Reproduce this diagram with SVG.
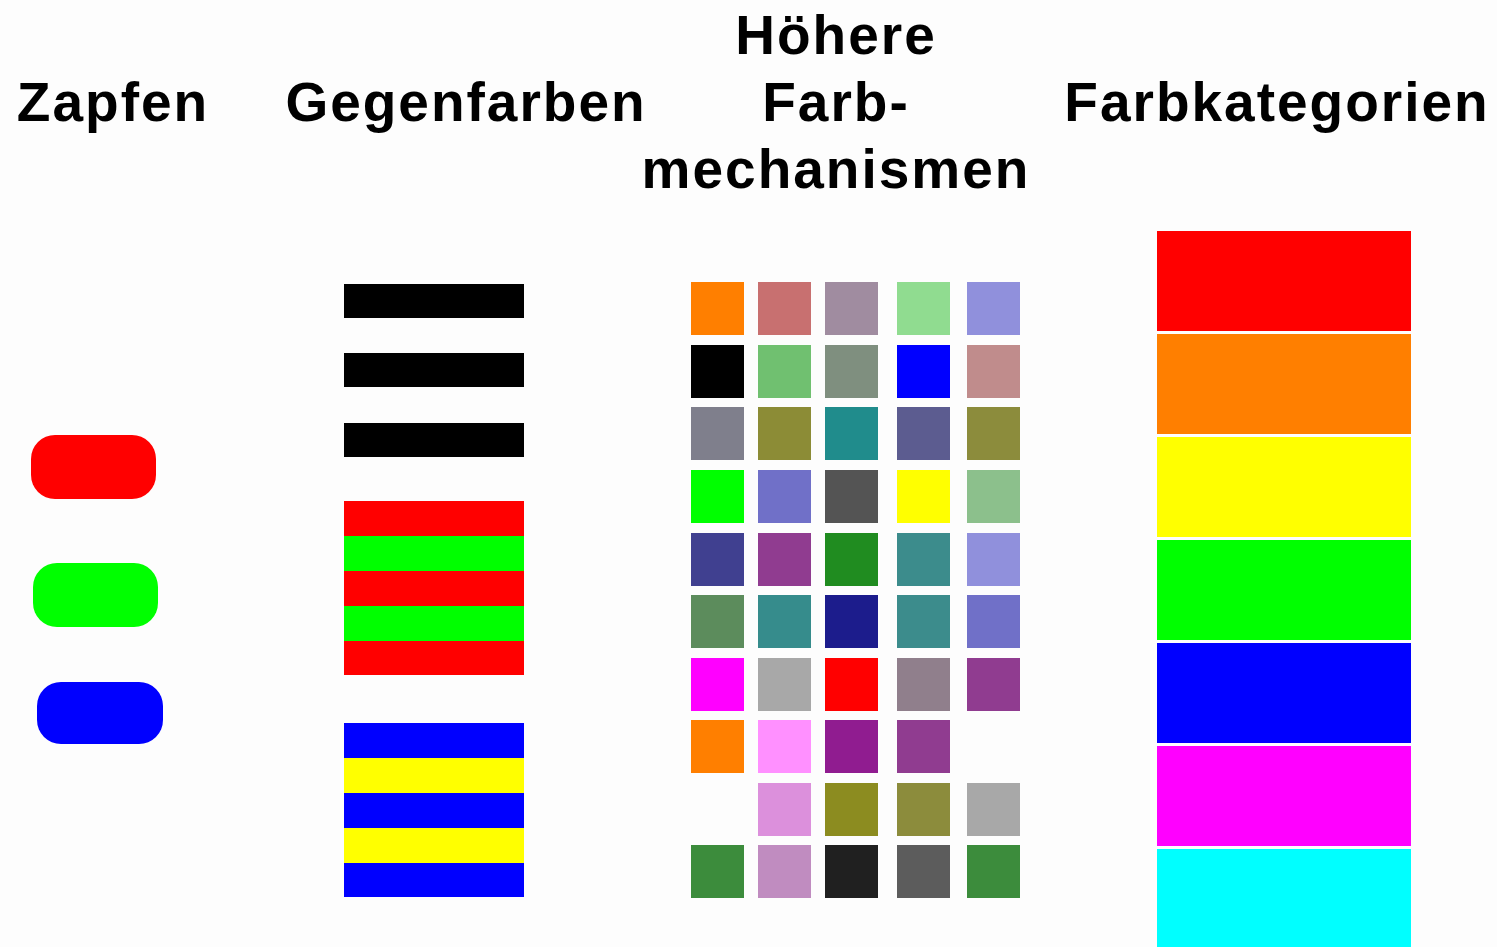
<svg xmlns="http://www.w3.org/2000/svg" width="1497" height="947" viewBox="0 0 1497 947">
<style>
.h{font-family:"Liberation Sans",Arial,sans-serif;font-weight:bold;font-size:55px;letter-spacing:2px;fill:#000;text-anchor:middle}
.c{width:53px;height:53px}
</style>
<rect width="1497" height="947" fill="#fdfdfd"/>
<g id="headers">
<text class="h" x="113" y="121">Zapfen</text>
<text class="h" x="466" y="121">Gegenfarben</text>
<text class="h" x="836" y="54">Höhere</text>
<text class="h" x="836" y="121">Farb-</text>
<text class="h" x="836" y="188">mechanismen</text>
<text class="h" x="1277" y="121">Farbkategorien</text>
</g>
<g id="zapfen">
<rect x="31" y="435" width="125" height="64" rx="24" fill="#ff0000"/>
<rect x="33" y="563" width="125" height="64" rx="24" fill="#00ff00"/>
<rect x="37" y="682" width="126" height="62" rx="24" fill="#0000ff"/>
</g>
<g id="gegenfarben">
<rect x="344" y="284" width="180" height="34" fill="#000"/>
<rect x="344" y="353" width="180" height="34" fill="#000"/>
<rect x="344" y="423" width="180" height="34" fill="#000"/>
<rect x="344" y="501" width="180" height="35" fill="#ff0000"/>
<rect x="344" y="536" width="180" height="35" fill="#00ff00"/>
<rect x="344" y="571" width="180" height="35" fill="#ff0000"/>
<rect x="344" y="606" width="180" height="35" fill="#00ff00"/>
<rect x="344" y="641" width="180" height="34" fill="#ff0000"/>
<rect x="344" y="723" width="180" height="35" fill="#0000ff"/>
<rect x="344" y="758" width="180" height="35" fill="#ffff00"/>
<rect x="344" y="793" width="180" height="35" fill="#0000ff"/>
<rect x="344" y="828" width="180" height="35" fill="#ffff00"/>
<rect x="344" y="863" width="180" height="34" fill="#0000ff"/>
</g>
<g id="hoehere">
<rect class="c" x="691" y="282" width="53" height="53" fill="#ff7f00"/>
<rect class="c" x="758" y="282" width="53" height="53" fill="#c87070"/>
<rect class="c" x="825" y="282" width="53" height="53" fill="#a08ca0"/>
<rect class="c" x="897" y="282" width="53" height="53" fill="#90dc90"/>
<rect class="c" x="967" y="282" width="53" height="53" fill="#9090dc"/>

<rect class="c" x="691" y="345" width="53" height="53" fill="#000000"/>
<rect class="c" x="758" y="345" width="53" height="53" fill="#70c070"/>
<rect class="c" x="825" y="345" width="53" height="53" fill="#7f8f7f"/>
<rect class="c" x="897" y="345" width="53" height="53" fill="#0000ff"/>
<rect class="c" x="967" y="345" width="53" height="53" fill="#c08c8c"/>

<rect class="c" x="691" y="407" width="53" height="53" fill="#7f7f8c"/>
<rect class="c" x="758" y="407" width="53" height="53" fill="#8c8c36"/>
<rect class="c" x="825" y="407" width="53" height="53" fill="#208c8c"/>
<rect class="c" x="897" y="407" width="53" height="53" fill="#5c5c90"/>
<rect class="c" x="967" y="407" width="53" height="53" fill="#8c8c3c"/>

<rect class="c" x="691" y="470" width="53" height="53" fill="#00ff00"/>
<rect class="c" x="758" y="470" width="53" height="53" fill="#7070c8"/>
<rect class="c" x="825" y="470" width="53" height="53" fill="#545454"/>
<rect class="c" x="897" y="470" width="53" height="53" fill="#ffff00"/>
<rect class="c" x="967" y="470" width="53" height="53" fill="#8cc08c"/>

<rect class="c" x="691" y="533" width="53" height="53" fill="#404090"/>
<rect class="c" x="758" y="533" width="53" height="53" fill="#903c90"/>
<rect class="c" x="825" y="533" width="53" height="53" fill="#208c20"/>
<rect class="c" x="897" y="533" width="53" height="53" fill="#3c8c8c"/>
<rect class="c" x="967" y="533" width="53" height="53" fill="#9090dc"/>

<rect class="c" x="691" y="595" width="53" height="53" fill="#5c8c5c"/>
<rect class="c" x="758" y="595" width="53" height="53" fill="#368c8c"/>
<rect class="c" x="825" y="595" width="53" height="53" fill="#1c1c8c"/>
<rect class="c" x="897" y="595" width="53" height="53" fill="#3c8c8c"/>
<rect class="c" x="967" y="595" width="53" height="53" fill="#7070c8"/>

<rect class="c" x="691" y="658" width="53" height="53" fill="#ff00ff"/>
<rect class="c" x="758" y="658" width="53" height="53" fill="#a8a8a8"/>
<rect class="c" x="825" y="658" width="53" height="53" fill="#ff0000"/>
<rect class="c" x="897" y="658" width="53" height="53" fill="#907f8c"/>
<rect class="c" x="967" y="658" width="53" height="53" fill="#903c90"/>

<rect class="c" x="691" y="720" width="53" height="53" fill="#ff7f00"/>
<rect class="c" x="758" y="720" width="53" height="53" fill="#ff90ff"/>
<rect class="c" x="825" y="720" width="53" height="53" fill="#901c90"/>
<rect class="c" x="897" y="720" width="53" height="53" fill="#903c90"/>

<rect class="c" x="758" y="783" width="53" height="53" fill="#dc90dc"/>
<rect class="c" x="825" y="783" width="53" height="53" fill="#8c8c20"/>
<rect class="c" x="897" y="783" width="53" height="53" fill="#8c8c3c"/>
<rect class="c" x="967" y="783" width="53" height="53" fill="#a8a8a8"/>

<rect class="c" x="691" y="845" width="53" height="53" fill="#3c8c3c"/>
<rect class="c" x="758" y="845" width="53" height="53" fill="#c08cc0"/>
<rect class="c" x="825" y="845" width="53" height="53" fill="#202020"/>
<rect class="c" x="897" y="845" width="53" height="53" fill="#5c5c5c"/>
<rect class="c" x="967" y="845" width="53" height="53" fill="#3c8c3c"/>
</g>
<g id="farbkategorien">
<rect x="1157" y="231" width="254" height="100" fill="#ff0000"/>
<rect x="1157" y="334" width="254" height="100" fill="#ff7f00"/>
<rect x="1157" y="437" width="254" height="100" fill="#ffff00"/>
<rect x="1157" y="540" width="254" height="100" fill="#00ff00"/>
<rect x="1157" y="643" width="254" height="100" fill="#0000ff"/>
<rect x="1157" y="746" width="254" height="100" fill="#ff00ff"/>
<rect x="1157" y="849" width="254" height="98" fill="#00ffff"/>
</g>
<g id="connectors"/>
</svg>
